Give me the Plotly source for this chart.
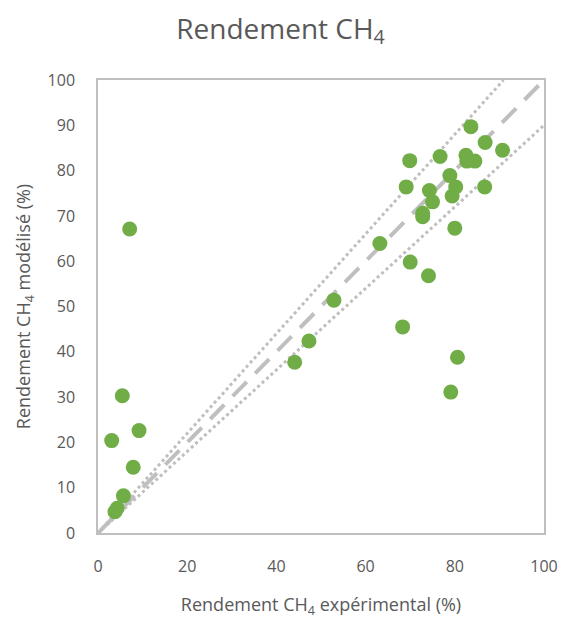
import plotly.graph_objects as go

# Experimental vs modelled CH4 yield (%)
exp_vals = [7.1, 5.45, 3.07, 9.2, 7.9, 5.7, 3.8, 4.3,
            52.9, 47.3, 44.1, 68.3, 80.6, 79.1, 74.1,
            83.6, 86.8, 90.7, 69.9, 76.7, 82.5, 82.7, 84.5, 78.9, 69.1,
            74.3, 80.2, 86.7, 75.0, 79.4, 72.8, 72.8, 80.0, 63.2, 70.0]
mod_vals = [67.1, 30.3, 20.4, 22.6, 14.5, 8.2, 4.7, 5.45,
            51.4, 42.4, 37.7, 45.5, 38.8, 31.1, 56.8,
            89.7, 86.2, 84.5, 82.2, 83.1, 83.4, 82.1, 82.1, 78.9, 76.4,
            75.6, 76.4, 76.4, 73.1, 74.4, 70.6, 69.8, 67.3, 63.9, 59.8]

# Reference lines: y = x and +/-10 %
ref_x = [0, 100]
ref_y = [0, 100]
upper_x = [0, 100 / 1.1]
upper_y = [0, 100]
lower_x = [0, 100]
lower_y = [0, 90]

x_ticks = [0, 20, 40, 60, 80, 100]
y_ticks = [0, 10, 20, 30, 40, 50, 60, 70, 80, 90, 100]

GREY_TXT = "#595959"
GREY_LINE = "#BFBFBF"
FONT = "Open Sans"

fig = go.Figure()
fig.add_trace(go.Scatter(x=upper_x, y=upper_y, mode="lines",
                         line=dict(color=GREY_LINE, width=3, dash="dot"), hoverinfo="skip"))
fig.add_trace(go.Scatter(x=lower_x, y=lower_y, mode="lines",
                         line=dict(color=GREY_LINE, width=3, dash="dot"), hoverinfo="skip"))
fig.add_trace(go.Scatter(x=ref_x, y=ref_y, mode="lines",
                         line=dict(color=GREY_LINE, width=4, dash="20px,12px"), hoverinfo="skip"))
fig.add_trace(go.Scatter(x=exp_vals, y=mod_vals, mode="markers",
                         marker=dict(color="#70AD47", size=15, line=dict(width=0))))

# page body has an 8px default margin, so the figure is sized to fit the window
fig.update_layout(
    width=559, height=611,
    margin=dict(l=90, r=23, t=72, b=86, autoexpand=False),
    paper_bgcolor="white", plot_bgcolor="white",
    showlegend=False,
    font=dict(family=FONT, color=GREY_TXT, size=16),
    title=dict(text="Rendement CH<sub>4</sub>", x=0.4875, xref="container", xanchor="center",
               y=0.966, yref="container", yanchor="middle",
               font=dict(family=FONT, size=28, color=GREY_TXT)),
)
fig.update_xaxes(range=[0, 100], tickvals=x_ticks, ticktext=[str(v) for v in x_ticks],
                 showgrid=False, zeroline=False, showline=True, linecolor=GREY_LINE, linewidth=1.5,
                 mirror=True, ticks="outside", ticklen=18, tickcolor="rgba(0,0,0,0)",
                 automargin=False,
                 tickfont=dict(size=16, color=GREY_TXT),
                 title=dict(text="Rendement CH<sub>4</sub> expérimental (%)", standoff=29,
                            font=dict(size=18, color=GREY_TXT)))
fig.update_yaxes(range=[0, 100], tickvals=y_ticks, ticktext=[str(v) for v in y_ticks],
                 showgrid=False, zeroline=False, showline=True, linecolor=GREY_LINE, linewidth=1.5,
                 mirror=True, ticks="outside", ticklen=18, tickcolor="rgba(0,0,0,0)",
                 automargin=False,
                 tickfont=dict(size=16, color=GREY_TXT),
                 title=dict(text="Rendement CH<sub>4</sub> modélisé (%)", standoff=12,
                            font=dict(size=18, color=GREY_TXT)))

fig.write_html("out.html")
